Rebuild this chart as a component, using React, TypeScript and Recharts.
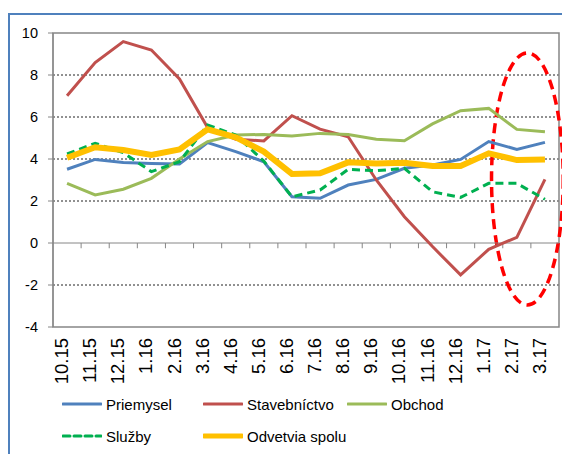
import React from "react";
import {
  LineChart, Line, XAxis, YAxis, CartesianGrid, ReferenceLine, ReferenceArea,
} from "recharts";

const LABELS = [
  "10.15", "11.15", "12.15", "1.16", "2.16", "3.16", "4.16", "5.16", "6.16",
  "7.16", "8.16", "9.16", "10.16", "11.16", "12.16", "1.17", "2.17", "3.17",
];
const PRIEMYSEL = [3.51, 3.98, 3.83, 3.79, 3.76, 4.78, 4.35, 3.87, 2.2, 2.13, 2.76, 3.03, 3.56, 3.71, 3.98, 4.83, 4.46, 4.79];
const STAVEBNICTVO = [7.01, 8.59, 9.59, 9.19, 7.81, 5.5, 4.94, 4.86, 6.06, 5.42, 5.06, 3.0, 1.25, -0.17, -1.52, -0.3, 0.27, 3.03];
const OBCHOD = [2.84, 2.29, 2.56, 3.08, 4.0, 4.83, 5.14, 5.17, 5.1, 5.22, 5.17, 4.94, 4.87, 5.67, 6.3, 6.41, 5.41, 5.3];
const SLUZBY = [4.24, 4.75, 4.3, 3.4, 3.87, 5.62, 5.14, 3.9, 2.2, 2.52, 3.51, 3.44, 3.56, 2.44, 2.17, 2.84, 2.84, 2.08];
const SPOLU = [4.06, 4.56, 4.43, 4.19, 4.45, 5.41, 5.03, 4.35, 3.29, 3.32, 3.84, 3.79, 3.82, 3.67, 3.67, 4.27, 3.95, 3.98];
const Y_TICKS = [-4, -2, 0, 2, 4, 6, 8, 10];

const data = LABELS.map((label, i) => ({
  i,
  label,
  priemysel: PRIEMYSEL[i],
  stavebnictvo: STAVEBNICTVO[i],
  obchod: OBCHOD[i],
  sluzby: SLUZBY[i],
  spolu: SPOLU[i],
}));

const SERIES = [
  { key: "priemysel", name: "Priemysel", color: "#4F81BD", width: 3, dash: undefined },
  { key: "stavebnictvo", name: "Stavebníctvo", color: "#C0504D", width: 3, dash: undefined },
  { key: "obchod", name: "Obchod", color: "#9BBB59", width: 3, dash: undefined },
  { key: "sluzby", name: "Služby", color: "#00B050", width: 3, dash: "8 5" },
  { key: "spolu", name: "Odvetvia spolu", color: "#FFC000", width: 6, dash: undefined },
];

// no serif face renders here, so use a narrow sans to keep text widths close
const FONT = "Liberation Sans, Arial, sans-serif";
const GRAY = "#868686";

function XTick({ x, y, payload }: any) {
  const ty = y + 11;
  return (
    <text x={x + 1} y={ty} transform={`rotate(-90 ${x + 1} ${ty})`} textAnchor="end"
      style={{ fontFamily: FONT }} fontSize={18.5} fill="#000">
      {LABELS[payload.value]}
    </text>
  );
}

function Ellipse({ x, y, width, height }: any) {
  return (
    <ellipse cx={x + width / 2} cy={y + height / 2} rx={width / 2} ry={height / 2}
      fill="none" stroke="#FF0000" strokeWidth={3.5} strokeDasharray="10 6" />
  );
}

function LegendItem({ s }: { s: (typeof SERIES)[number] }) {
  return (
    <div style={{ display: "flex", alignItems: "center" }}>
      <svg width={40} height={8} style={{ marginRight: 4 }}>
        <line x1={1} y1={4} x2={39} y2={4} stroke={s.color}
          strokeWidth={s.key === "spolu" ? 5 : 3} strokeDasharray={s.dash ? "7 4" : undefined}
          strokeLinecap="round" />
      </svg>
      <span>{s.name}</span>
    </div>
  );
}

export default function App() {
  const boundaries = LABELS.slice(1).map((_, i) => i + 0.5);
  return (
    <div style={{ position: "relative", width: 562, height: 446, overflow: "hidden", fontFamily: FONT }}>
      <div style={{
        position: "absolute", left: 0, top: 5, width: 700, height: 600,
        borderTop: "2px solid #4F81BD", borderLeft: "2px solid #4F81BD",
      }} />
      <div style={{ position: "absolute", left: 0, top: 0 }}>
        <LineChart width={562} height={385} data={data} style={{ fontFamily: FONT }}
          margin={{ top: 25, right: 11, left: 5, bottom: 6 }}>
          <CartesianGrid horizontal vertical={false} horizontalValues={[-2, 2, 4, 6, 8]}
            stroke="#222" strokeDasharray="2 2" />
          <XAxis dataKey="i" type="number" domain={[-0.5, 17.5]} ticks={LABELS.map((_, i) => i)}
            interval={0} height={60} axisLine={false} tickLine={false} tickSize={0} tickMargin={0}
            tick={<XTick />} allowDataOverflow />
          <YAxis type="number" domain={[-4, 10]} ticks={Y_TICKS} width={40} interval={0}
            axisLine={{ stroke: GRAY }} tickLine={{ stroke: GRAY }} tickSize={5} tickMargin={10}
            tick={{ fill: "#000", fontSize: 14.5, style: { fontFamily: FONT } }} />
          <ReferenceArea x1={-0.5} x2={17.5} y1={-4} y2={10} fill="none" fillOpacity={0}
            stroke={GRAY} strokeWidth={1.5} ifOverflow="visible" />
          <ReferenceLine y={0} stroke={GRAY} strokeWidth={1} />
          {boundaries.map((b) => (
            <ReferenceLine key={b} segment={[{ x: b, y: 0 }, { x: b, y: -0.25 }]}
              stroke={GRAY} strokeWidth={1} />
          ))}
          {SERIES.map((s) => (
            <Line key={s.key} dataKey={s.key} name={s.name} stroke={s.color} strokeWidth={s.width}
              strokeDasharray={s.dash} dot={false} activeDot={false} type="linear"
              isAnimationActive={false} />
          ))}
          <ReferenceArea x1={15.1} x2={17.65} y1={-2.95} y2={9.05} ifOverflow="visible"
            shape={<Ellipse />} />
        </LineChart>
      </div>
      <div style={{ position: "absolute", left: 54, top: 380, fontSize: 15, color: "#000" }}>
        <div style={{ display: "flex", height: 32, alignItems: "center" }}>
          <div style={{ width: 141 }}><LegendItem s={SERIES[0]} /></div>
          <div style={{ width: 144 }}><LegendItem s={SERIES[1]} /></div>
          <div><LegendItem s={SERIES[2]} /></div>
        </div>
        <div style={{ display: "flex", height: 32, alignItems: "center" }}>
          <div style={{ width: 141 }}><LegendItem s={SERIES[3]} /></div>
          <div><LegendItem s={SERIES[4]} /></div>
        </div>
      </div>
    </div>
  );
}
